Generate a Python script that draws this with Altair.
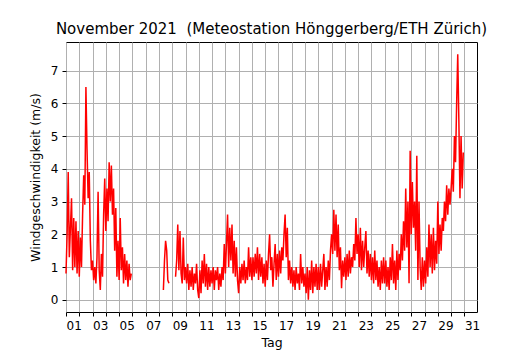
import altair as alt
import pandas as pd

TITLE = "November 2021 \u00a0(Meteostation Hönggerberg/ETH Zürich)"
X_LABEL = "Tag"
Y_LABEL = "Windgeschwindigkeit (m/s)"

# wind speed readings, 12 per day (every 2 hours), None = no data
D01 = [0.8, 2.0, 3.9, 1.3, 2.2, 3.1, 0.9, 2.5, 1.0, 2.4, 0.8, 2.1]
D02 = [0.7, 1.9, 1.0, 2.6, 3.8, 2.9, 6.5, 4.6, 3.1, 3.9, 1.8, 0.9]
D03 = [1.2, 0.6, 1.0, 0.5, 1.3, 3.3, 0.9, 0.3, 1.4, 0.7, 2.6, 3.7]
D04 = [2.1, 3.4, 2.4, 4.2, 3.0, 4.1, 2.6, 3.4, 1.5, 2.8, 0.7, 1.8]
D05 = [0.6, 2.5, 0.9, 1.6, 0.5, 1.4, 0.6, 1.2, 0.4, 1.1, 0.6, 0.8]
D06 = [None] * 12
D07 = [None] * 12
D08 = [None, None, None, None, 0.3, 1.2, 1.8, 1.5, 0.6, 0.5, None, None]
D09 = [None, None, None, 0.7, 1.2, 2.3, 0.9, 2.1, 0.8, 0.5, 1.9, 0.6]
D10 = [1.0, 0.5, 1.1, 0.3, 0.9, 0.4, 1.0, 0.3, 0.8, 0.5, 1.1, 0.3]
D11 = [0.05, 0.9, 0.2, 1.2, 0.5, 1.4, 0.4, 1.1, 0.3, 1.0, 0.4, 0.9]
D12 = [0.5, 1.0, 0.3, 0.9, 0.6, 1.0, 0.3, 0.8, 0.4, 1.0, 0.6, 1.7]
D13 = [0.8, 1.7, 2.6, 1.0, 2.2, 1.2, 2.3, 0.8, 1.8, 0.7, 1.6, 0.6]
D14 = [0.2, 1.0, 0.5, 1.1, 0.6, 1.2, 0.5, 1.0, 0.6, 1.6, 0.7, 1.3]
D15 = [0.6, 1.3, 0.7, 1.4, 0.8, 1.6, 0.6, 1.4, 0.7, 1.3, 0.5, 1.1]
D16 = [0.4, 1.2, 0.6, 1.4, 2.0, 0.9, 1.3, 0.4, 1.1, 1.7, 0.6, 1.4]
D17 = [0.7, 1.5, 0.8, 1.6, 1.2, 2.0, 2.6, 1.3, 2.2, 0.6, 1.2, 0.5]
D18 = [1.0, 0.4, 0.9, 0.3, 1.0, 0.5, 0.8, 0.3, 1.4, 0.5, 1.0, 0.4]
D19 = [0.8, 0.2, 1.0, 0.0, 0.9, 0.3, 1.2, 0.2, 1.0, 0.4, 1.1, 0.3]
D20 = [1.0, 0.3, 1.1, 0.4, 0.9, 1.4, 0.3, 1.0, 0.4, 1.2, 0.6, 1.5]
D21 = [2.0, 1.4, 2.75, 1.5, 2.6, 1.3, 2.3, 0.9, 1.6, 0.35, 1.2, 0.7]
D22 = [1.3, 0.6, 1.4, 0.7, 1.5, 0.8, 1.3, 1.0, 1.7, 1.2, 2.5, 1.4]
D23 = [2.0, 1.0, 2.2, 0.9, 1.8, 1.0, 1.6, 2.1, 0.8, 1.5, 0.7, 1.4]
D24 = [0.6, 1.3, 0.5, 1.5, 0.6, 1.2, 0.4, 1.0, 0.3, 1.2, 0.5, 1.3]
D25 = [0.5, 1.2, 0.4, 1.0, 0.3, 1.3, 0.6, 1.7, 0.5, 1.2, 0.3, 1.5]
D26 = [0.6, 1.4, 0.9, 2.0, 1.2, 2.4, 1.5, 3.4, 1.6, 3.0, 0.5, 4.55]
D27 = [2.0, 3.6, 2.2, 3.0, 1.5, 4.4, 0.6, 3.0, 1.0, 0.3, 1.3, 0.4]
D28 = [1.2, 0.5, 1.6, 0.7, 2.3, 1.0, 2.0, 0.8, 2.2, 0.9, 1.8, 1.1]
D29 = [3.0, 1.4, 2.3, 1.5, 2.5, 2.1, 3.0, 2.4, 3.5, 2.6, 3.4, 2.9]
D30 = [3.4, 4.0, 3.3, 5.0, 4.2, 6.0, 7.5, 5.5, 3.1, 5.0, 3.4, 4.5]

DAYS = [D01, D02, D03, D04, D05, D06, D07, D08, D09, D10,
        D11, D12, D13, D14, D15, D16, D17, D18, D19, D20,
        D21, D22, D23, D24, D25, D26, D27, D28, D29, D30]

TICK_DAYS = list(range(1, 32))
Y_TICKS = [0, 1, 2, 3, 4, 5, 6, 7]

rows = []
seg = 0
prev_none = True
for d, vals in enumerate(DAYS, start=1):
    n = len(vals)
    for i, v in enumerate(vals):
        if v is None:
            if not prev_none:
                seg += 1
            prev_none = True
            continue
        prev_none = False
        rows.append({"tag": d + i / n, "v": v, "seg": seg})
df = pd.DataFrame(rows)

FONT = "DejaVu Sans"

line = alt.Chart(df).mark_line(color="#ff0000", strokeWidth=1.5, strokeJoin="miter").encode(
    x=alt.X("tag:Q",
            scale=alt.Scale(domain=[1, 31.95], nice=False, zero=False),
            axis=alt.Axis(values=TICK_DAYS, title=X_LABEL,
                          labelExpr="datum.value % 2 == 1 ? (datum.value < 10 ? '0' + datum.value : '' + datum.value) : ''",
                          labelAlign="left", labelPadding=4, labelFlush=False,
                          labelOverlap=False)),
    y=alt.Y("v:Q",
            scale=alt.Scale(domain=[-0.375, 7.875], nice=False, zero=False),
            axis=alt.Axis(values=Y_TICKS, title=Y_LABEL, labelPadding=4)),
    detail="seg:N",
)

chart = line.properties(
    width=411, height=270,
    title=alt.TitleParams(TITLE, fontSize=15, font=FONT, fontWeight="normal",
                          anchor="middle", offset=5, color="black"),
    autosize=alt.AutoSizeParams(type="none"),
    padding={"left": 58, "top": 34, "right": 45, "bottom": 40},
).configure_view(
    stroke="black", strokeWidth=1
).configure_axis(
    domain=False,
    grid=True, gridColor="#b0b0b0", gridWidth=1, gridOpacity=1,
    tickColor="black", tickSize=4, tickWidth=1,
    labelFont=FONT, labelFontSize=12, labelColor="black",
    titleFont=FONT, titleFontSize=12.5, titleColor="black", titleFontWeight="normal",
).configure_axisX(
    titlePadding=5,
).configure_axisY(
    titlePadding=8,
)

chart.save("out.html", embed_options={"renderer": "svg", "actions": False})
